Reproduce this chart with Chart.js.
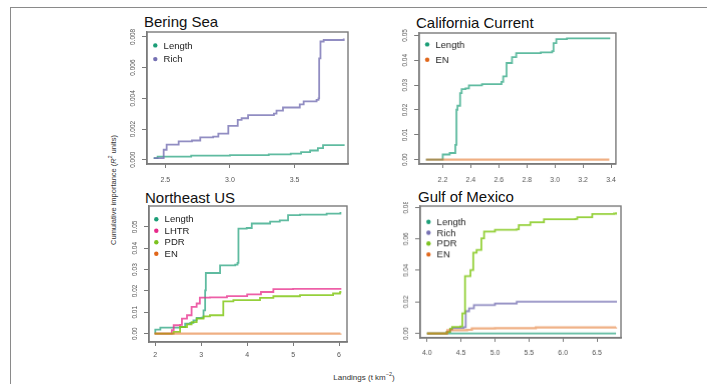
<!DOCTYPE html>
<html>
<head>
<meta charset="utf-8">
<script src="https://cdn.jsdelivr.net/npm/chart.js@4.4.0/dist/chart.umd.min.js"></script>
<style>
  body { margin: 0; background: #fff; width: 707px; height: 384px; overflow: hidden; position: relative;
         font-family: "Liberation Sans", Arial, sans-serif; }
  #frame { position: absolute; left: 10px; top: 7px; width: 720px; height: 400px;
           border-left: 1.5px solid #8a8a8a; border-top: 1.5px solid #8a8a8a; }
  canvas { position: absolute; }
  .title { position: absolute; font-size: 15px; color: #111; line-height: 15px; white-space: nowrap; }
  .axtitle { position: absolute; font-size: 7.5px; color: #333; white-space: nowrap; line-height: 8px; }
</style>
</head>
<body>
<div id="frame"></div>
<div class="title" style="left:144px;top:14px">Bering Sea</div>
<div class="title" style="left:416px;top:15px">California Current</div>
<div class="title" style="left:145px;top:190px">Northeast US</div>
<div class="title" style="left:418px;top:189px">Gulf of Mexico</div>
<div class="axtitle" id="ytitle" style="left:112px;top:190px;transform:translate(-50%,-50%) rotate(-90deg)">Cumulative importance (<i>R</i><sup style="font-size:5px">2</sup> units)</div>
<div class="axtitle" style="left:364px;top:376px;transform:translate(-50%,-50%);font-size:8px">Landings (t km<sup style="font-size:5.5px">−2</sup>)</div>

<canvas id="bering"></canvas>
<canvas id="california"></canvas>
<canvas id="northeast"></canvas>
<canvas id="gulf"></canvas>

<script>
// Bering Sea
const beringLengthX = [2.41, 2.44, 2.70, 3.00, 3.30, 3.47, 3.55, 3.62, 3.68, 3.72, 3.88];
const beringLengthY = [0.0001, 0.0002, 0.00027, 0.0003, 0.00035, 0.0004, 0.0005, 0.0006, 0.00075, 0.00095, 0.001];
const beringRichX = [2.41, 2.487, 2.51, 2.603, 2.706, 2.77, 2.87, 2.91, 2.987, 3.06, 3.09, 3.14, 3.34, 3.36, 3.41, 3.50, 3.54, 3.57, 3.67, 3.685, 3.69, 3.70, 3.725, 3.88];
const beringRichY = [0.0001, 0.00065, 0.00098, 0.0012, 0.00125, 0.00145, 0.0015, 0.0017, 0.0022, 0.0026, 0.0027, 0.0029, 0.0030, 0.0032, 0.0034, 0.0034, 0.0036, 0.0038, 0.0039, 0.0040, 0.0066, 0.0077, 0.0078, 0.0079];
const beringXTicks = [2.5, 3.0, 3.5];
const beringXLabels = ["2.5", "3.0", "3.5"];
const beringYTicks = [0, 0.002, 0.004, 0.006, 0.008];
const beringYLabels = ["0.000", "0.002", "0.004", "0.006", "0.008"];

// California Current
const califLengthX = [2.08, 2.20, 2.25, 2.29, 2.298, 2.305, 2.324, 2.335, 2.363, 2.387, 2.48, 2.619, 2.631, 2.655, 2.694, 2.724, 2.899, 2.98, 2.99, 3.01, 3.085, 3.388];
const califLengthY = [0, 0.0021, 0.0027, 0.0060, 0.0201, 0.0217, 0.0268, 0.0284, 0.0287, 0.0299, 0.0304, 0.0313, 0.0335, 0.0389, 0.0413, 0.0429, 0.0432, 0.0437, 0.0469, 0.0485, 0.0488, 0.0492];
const califENX = [2.08, 3.388];
const califENY = [0, 0];
const califXTicks = [2.2, 2.4, 2.6, 2.8, 3.0, 3.2, 3.4];
const califXLabels = ["2.2", "2.4", "2.6", "2.8", "3.0", "3.2", "3.4"];
const califYTicks = [0, 0.01, 0.02, 0.03, 0.04, 0.05];
const califYLabels = ["0.00", "0.01", "0.02", "0.03", "0.04", "0.05"];

// Northeast US
const neLengthX = [1.985, 2.00, 2.11, 2.54, 2.65, 2.76, 2.83, 2.90, 3.01, 3.05, 3.085, 3.10, 3.30, 3.41, 3.74, 3.79, 3.81, 3.99, 4.10, 4.50, 4.71, 4.89, 5.15, 5.73, 6.03];
const neLengthY = [0.0003, 0.0019, 0.0028, 0.0031, 0.0047, 0.0050, 0.0062, 0.0073, 0.0075, 0.0109, 0.0203, 0.0284, 0.0284, 0.0320, 0.0323, 0.0331, 0.0492, 0.0495, 0.0516, 0.0525, 0.0531, 0.0555, 0.0558, 0.0562, 0.0570];
const neLHTRX = [1.985, 2.36, 2.40, 2.54, 2.58, 2.69, 2.79, 2.90, 2.97, 3.19, 3.56, 4.00, 4.30, 4.57, 5.00, 6.03];
const neLHTRY = [0, 0.0016, 0.0039, 0.0041, 0.0070, 0.0086, 0.0125, 0.0141, 0.0169, 0.0170, 0.0176, 0.0184, 0.0195, 0.0208, 0.0210, 0.0214];
const nePDRX = [1.985, 2.40, 2.54, 2.69, 2.79, 2.90, 3.05, 3.19, 3.48, 3.70, 4.28, 4.57, 5.15, 5.87, 6.02, 6.03];
const nePDRY = [0, 0.0008, 0.0031, 0.0043, 0.0054, 0.0070, 0.0081, 0.0086, 0.0151, 0.0157, 0.0167, 0.0175, 0.0180, 0.0188, 0.0193, 0.0200];
const neENX = [1.985, 6.03];
const neENY = [0, 0.0001];
const neXTicks = [2, 3, 4, 5, 6];
const neXLabels = ["2", "3", "4", "5", "6"];
const neYTicks = [0, 0.01, 0.02, 0.03, 0.04, 0.05];
const neYLabels = ["0.00", "0.01", "0.02", "0.03", "0.04", "0.05"];

// Gulf of Mexico
const gulfLengthX = [4.0, 6.78];
const gulfLengthY = [0, 0];
const gulfRichX = [4.0, 4.29, 4.34, 4.37, 4.54, 4.57, 4.62, 4.69, 5.00, 5.32, 6.78];
const gulfRichY = [0, 0.0010, 0.0025, 0.0035, 0.0040, 0.0141, 0.0160, 0.0180, 0.0190, 0.0201, 0.0207];
const gulfPDRX = [4.0, 4.29, 4.34, 4.37, 4.49, 4.52, 4.56, 4.64, 4.68, 4.73, 4.80, 4.84, 5.00, 5.32, 5.35, 5.52, 5.72, 6.18, 6.21, 6.43, 6.75, 6.78];
const gulfPDRY = [0, 0.0010, 0.0030, 0.0042, 0.0045, 0.0127, 0.0364, 0.0402, 0.0512, 0.0529, 0.0603, 0.0646, 0.0657, 0.0661, 0.0688, 0.0705, 0.0724, 0.0726, 0.0737, 0.0758, 0.0760, 0.0768];
const gulfENX = [4.0, 4.30, 4.59, 4.66, 5.00, 5.60, 6.78];
const gulfENY = [0, 0.0021, 0.0023, 0.0032, 0.0034, 0.0038, 0.0039];
const gulfXTicks = [4.0, 4.5, 5.0, 5.5, 6.0, 6.5];
const gulfXLabels = ["4.0", "4.5", "5.0", "5.5", "6.0", "6.5"];
const gulfYTicks = [0, 0.02, 0.04, 0.06, 0.08];
const gulfYLabels = ["0.00", "0.02", "0.04", "0.06", "0.08"];

const COLORS = {
  Length: { dot: "#1b9e77", line: "rgba(27,158,119,0.7)" },
  Rich:   { dot: "#7570b3", line: "rgba(117,112,179,0.8)" },
  LHTR:   { dot: "#e7298a", line: "rgba(231,41,138,0.75)" },
  PDR:    { dot: "#7cc21f", line: "rgba(130,200,25,0.85)" },
  EN:     { dot: "#e0661a", line: "rgba(225,110,30,0.55)" },
};

const PAD_L = 40, PAD_T = 4, PAD_R = 4, PAD_B = 26;

function series(name, xs, ys, i) {
  return {
    label: name,
    data: xs.map((x, k) => ({ x, y: ys[k] })),
    borderColor: COLORS[name].line,
    borderWidth: name === "EN" ? 2.2 : 1.8,
    stepped: true,
    pointRadius: 0,
    fill: false,
    order: -i,
  };
}

// box round the plot region, like R's box()
const boxPlugin = {
  id: "rBox",
  afterDatasetsDraw(chart) {
    const a = chart.chartArea, ctx = chart.ctx;
    ctx.save();
    ctx.strokeStyle = "#7a7a7a";
    ctx.lineWidth = 1.4;
    ctx.strokeRect(a.left, a.top, a.right - a.left, a.bottom - a.top);
    ctx.restore();
  },
};

// legend with dots inside the top left corner
const legendPlugin = {
  id: "rLegend",
  afterDraw(chart, args, opts) {
    const a = chart.chartArea, ctx = chart.ctx;
    ctx.save();
    ctx.font = "9.5px 'Liberation Sans', Arial, sans-serif";
    ctx.textBaseline = "middle";
    chart.data.datasets.forEach((ds, i) => {
      const y = a.top + opts.dy + i * opts.gap;
      const x = a.left + opts.dx;
      ctx.fillStyle = COLORS[ds.label].dot;
      ctx.beginPath();
      ctx.arc(x, y, 2.2, 0, Math.PI * 2);
      ctx.fill();
      ctx.fillStyle = "#222";
      ctx.fillText(ds.label, x + 8.3, y + 0.5);
    });
    ctx.restore();
  },
};

// y tick labels turned 90 degrees, as R draws them
const yLabelPlugin = {
  id: "rYLabels",
  afterDraw(chart, args, opts) {
    const s = chart.scales.y, a = chart.chartArea, ctx = chart.ctx;
    ctx.save();
    ctx.font = "6.5px 'Liberation Sans', Arial, sans-serif";
    ctx.fillStyle = "#555";
    ctx.textAlign = "center";
    ctx.textBaseline = "middle";
    opts.ticks.forEach((v, k) => {
      const py = s.getPixelForValue(v);
      ctx.save();
      ctx.translate(a.left - 14, py);
      ctx.rotate(-Math.PI / 2);
      ctx.fillText(opts.labels[k], 0, 0);
      ctx.restore();
    });
    ctx.restore();
  },
};

function panel(id, box, xr, yr, xTicks, xLabels, yTicks, yLabels, xPad, leg, datasets) {
  const cv = document.getElementById(id);
  const w = box.w + PAD_L + PAD_R, h = box.h + PAD_T + PAD_B;
  cv.width = w; cv.height = h;
  cv.style.width = w + "px"; cv.style.height = h + "px";
  cv.style.left = (box.left - PAD_L) + "px";
  cv.style.top = (box.top - PAD_T) + "px";
  new Chart(cv.getContext("2d"), {
    type: "line",
    data: { datasets },
    options: {
      responsive: false,
      animation: false,
      events: [],
      layout: { padding: { top: PAD_T, right: PAD_R, left: 0, bottom: 0 } },
      plugins: {
        legend: { display: false },
        tooltip: { enabled: false },
        rLegend: leg,
        rYLabels: { ticks: yTicks, labels: yLabels },
      },
      scales: {
        x: {
          type: "linear", min: xr[0], max: xr[1],
          afterFit: (s) => { s.height = PAD_B; },
          afterBuildTicks: (s) => { s.ticks = xTicks.map((v) => ({ value: v })); },
          grid: { drawOnChartArea: false, drawTicks: true, tickLength: 4, color: "#7a7a7a", lineWidth: 1 },
          border: { display: true, color: "#7a7a7a", width: 1.4 },
          ticks: {
            color: "#555", padding: xPad, maxRotation: 0,
            font: { size: 7, family: "'Liberation Sans', Arial, sans-serif" },
            callback: (v, i) => xLabels[i],
          },
        },
        y: {
          type: "linear", min: yr[0], max: yr[1],
          afterFit: (s) => { s.width = PAD_L; },
          afterBuildTicks: (s) => { s.ticks = yTicks.map((v) => ({ value: v })); },
          grid: { drawOnChartArea: false, drawTicks: true, tickLength: 5, color: "#7a7a7a", lineWidth: 1 },
          border: { display: true, color: "#7a7a7a", width: 1.4 },
          ticks: { display: false },
        },
      },
    },
    plugins: [boxPlugin, legendPlugin, yLabelPlugin],
  });
}

panel("bering", { left: 146.7, top: 32.3, w: 201, h: 132 },
  [2.358, 3.913], [-0.00028, 0.00832],
  beringXTicks, beringXLabels, beringYTicks, beringYLabels, 8,
  { dx: 8.3, dy: 13.4, gap: 13.7 },
  [series("Length", beringLengthX, beringLengthY, 0), series("Rich", beringRichX, beringRichY, 1)]);

panel("california", { left: 419.3, top: 33.3, w: 200.7, h: 131 },
  [2.032, 3.435], [-0.00173, 0.05097],
  califXTicks, califXLabels, califYTicks, califYLabels, 8,
  { dx: 8, dy: 11.4, gap: 15.3 },
  [series("Length", califLengthX, califLengthY, 0), series("EN", califENX, califENY, 1)]);

panel("northeast", { left: 148.7, top: 205.7, w: 198.6, h: 136 },
  [1.863, 6.173], [-0.00394, 0.0598],
  neXTicks, neXLabels, neYTicks, neYLabels, 5,
  { dx: 7.3, dy: 13.3, gap: 11.5 },
  [series("Length", neLengthX, neLengthY, 0), series("LHTR", neLHTRX, neLHTRY, 1),
   series("PDR", nePDRX, nePDRY, 2), series("EN", neENX, neENY, 3)]);

panel("gulf", { left: 420, top: 206, w: 200.7, h: 131.7 },
  [3.90, 6.853], [-0.0028, 0.0808],
  gulfXTicks, gulfXLabels, gulfYTicks, gulfYLabels, 7,
  { dx: 8.3, dy: 15.7, gap: 10.8 },
  [series("Length", gulfLengthX, gulfLengthY, 0), series("Rich", gulfRichX, gulfRichY, 1),
   series("PDR", gulfPDRX, gulfPDRY, 2), series("EN", gulfENX, gulfENY, 3)]);
</script>
</body>
</html>
